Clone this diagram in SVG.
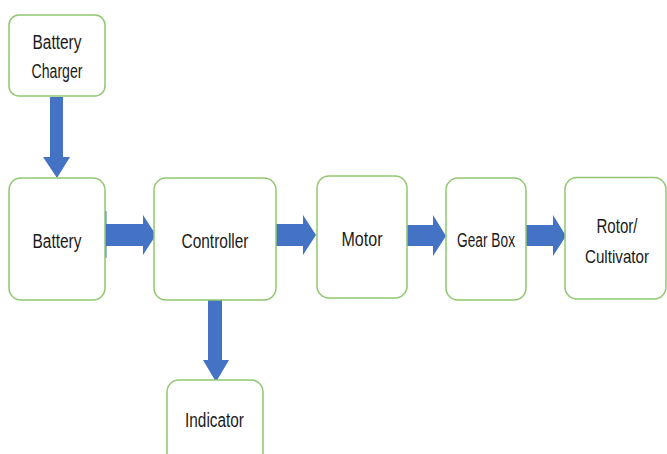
<svg xmlns="http://www.w3.org/2000/svg" width="667" height="454" viewBox="0 0 667 454">
<style>
.box{fill:#fff;stroke:#8fc870;stroke-width:1.5}
.arr{fill:#4472c4}
text{font-family:"Liberation Sans",Arial,sans-serif;font-size:20px;fill:#1a1a1a;text-anchor:middle}
</style>
<rect width="667" height="454" fill="#fff"/>
<g id="connectors">
<polygon class="arr" points="50,97 63,97 63,157 70,157 57,178 43,157 50,157"/>
<polygon class="arr" points="106,224 143,224 143,215 156,235 143,255 143,246 106,246"/>
<rect class="arr" x="105" y="211" width="1.5" height="47"/>
<polygon class="arr" points="276,224 303,224 303,215 316,235 303,255 303,246 276,246"/>
<polygon class="arr" points="407,225 433,225 433,215 446,236 433,256 433,246 407,246"/>
<polygon class="arr" points="526,225 553,225 553,215 566,236 553,256 553,246 526,246"/>
<polygon class="arr" points="208,300 222,300 222,360 229,360 216,382 203,360 208,360"/>
</g>
<g id="battery-charger"><rect class="box" x="9" y="15" width="96" height="81" rx="10"/><text x="57" y="49" textLength="49" lengthAdjust="spacingAndGlyphs">Battery</text><text x="57" y="78" textLength="51" lengthAdjust="spacingAndGlyphs">Charger</text></g>
<g id="battery"><rect class="box" x="9" y="178" width="96" height="122" rx="12"/><text x="57" y="248" textLength="49" lengthAdjust="spacingAndGlyphs">Battery</text></g>
<g id="controller"><rect class="box" x="154" y="178" width="122" height="122" rx="12"/><text x="215" y="248" textLength="67" lengthAdjust="spacingAndGlyphs">Controller</text></g>
<g id="motor"><rect class="box" x="317" y="176" width="90" height="122" rx="12"/><text x="362" y="246" textLength="41" lengthAdjust="spacingAndGlyphs">Motor</text></g>
<g id="gear-box"><rect class="box" x="446" y="178" width="80" height="122" rx="12"/><text x="486" y="247" textLength="58" lengthAdjust="spacingAndGlyphs">Gear Box</text></g>
<g id="rotor"><rect class="box" x="565" y="177.5" width="101" height="121.5" rx="12"/><text x="617" y="233" textLength="41" lengthAdjust="spacingAndGlyphs">Rotor/</text><text x="617" y="263" style="font-size:19px" textLength="64" lengthAdjust="spacingAndGlyphs">Cultivator</text></g>
<g id="indicator"><rect class="box" x="167" y="380" width="96" height="90" rx="12"/><text x="214.5" y="427" textLength="59" lengthAdjust="spacingAndGlyphs">Indicator</text></g>
</svg>
